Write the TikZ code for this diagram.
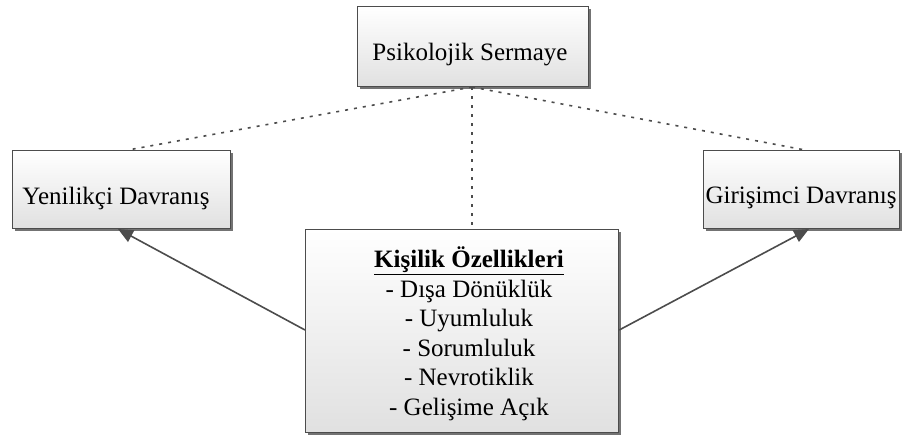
\documentclass[tikz,border=0pt]{standalone}
\usepackage{fontspec}
\setmainfont{Liberation Serif}
\usetikzlibrary{arrows.meta,shadows}
\begin{document}
\begin{tikzpicture}[x=1pt,y=-1pt,
  boxnode/.style={draw=black!70,line width=1.2pt,top color=white,bottom color=black!12,
    drop shadow={shadow xshift=2.5pt,shadow yshift=-2.5pt,fill=black!55,opacity=1},
    inner sep=0pt,anchor=north west},
  lbl/.style={font=\fontsize{25}{29.5}\selectfont,inner sep=0pt,text=black},
  dotline/.style={draw=black!70,line width=1.6pt,dash pattern=on 3pt off 6pt},
  arr/.style={draw=black!70,line width=1.6pt,-{Triangle[length=15pt,width=13pt]}}]
\useasboundingbox (0,0) rectangle (909,439);
\node[boxnode,minimum width=231pt,minimum height=80pt] (ps) at (357,6) {};
\node[lbl] (pst) at (470,55) {Psikolojik Sermaye};
\node[boxnode,minimum width=218pt,minimum height=78pt] (yd) at (12,150) {};
\node[lbl] (ydt) at (116,198) {Yenilikçi Davranış};
\node[boxnode,minimum width=196pt,minimum height=78pt] (gd) at (703,150) {};
\node[lbl] (gdt) at (801,198) {Girişimci Davranış};
\node[boxnode,minimum width=313pt,minimum height=203pt] (ko) at (305,229) {};
\node[lbl,align=center] (kot) at (469,334) {\textbf{\underline{Kişilik Özellikleri}}\\- Dışa Dönüklük\\- Uyumluluk\\- Sorumluluk\\- Nevrotiklik\\- Gelişime Açık};
\coordinate (pb) at (472,87);
\draw[dotline] (pb) -- (ko.north -| pb);
\draw[dotline] (pb) -- (128,150);
\draw[dotline] (pb) -- (805,150);
\draw[arr] (ko.west |- 0,330) -- (118,229);
\draw[arr] (ko.east |- 0,330) -- (809,229);
\end{tikzpicture}
\end{document}
